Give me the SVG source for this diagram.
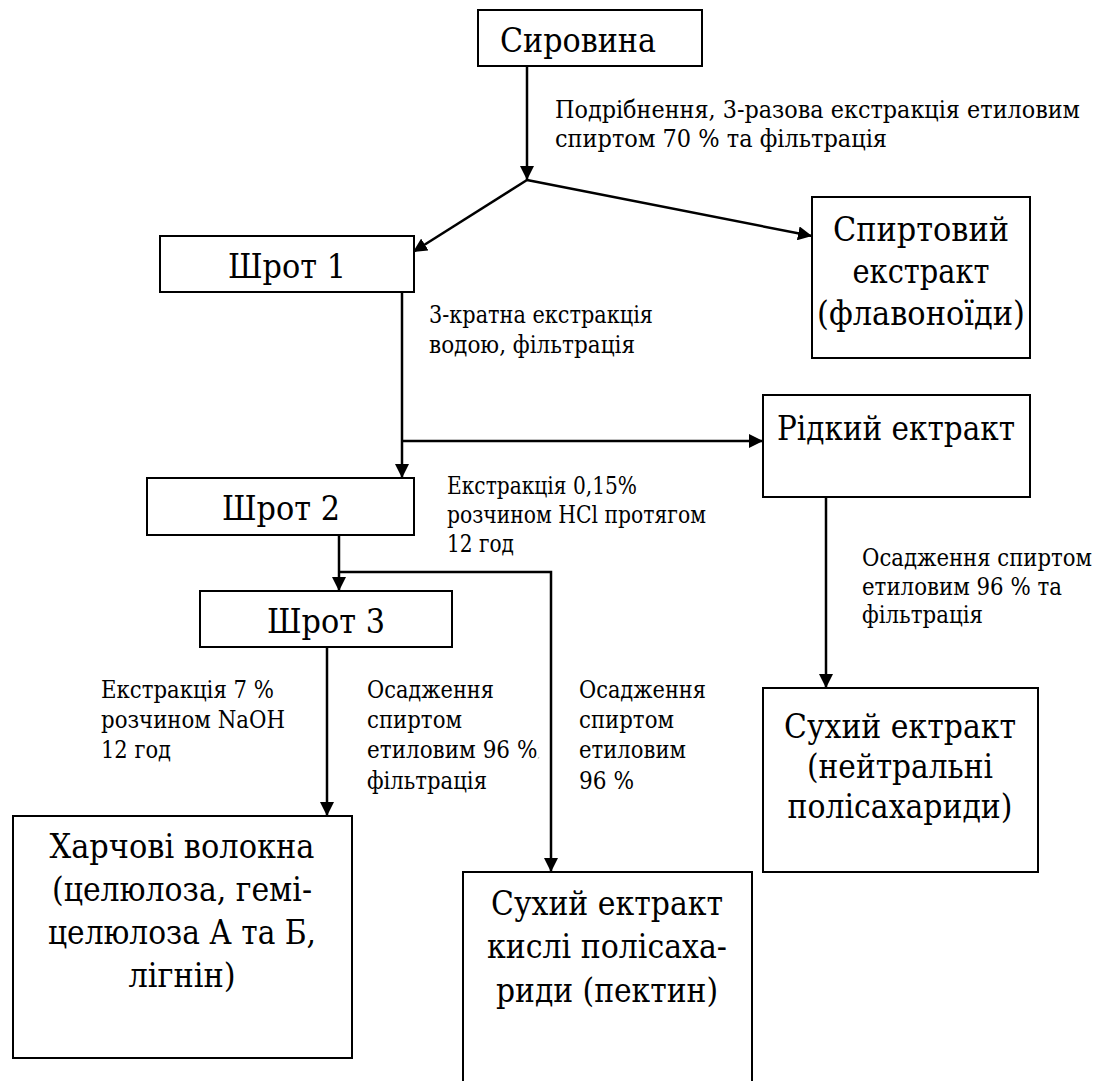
<svg xmlns="http://www.w3.org/2000/svg" width="1112" height="1081" viewBox="0 0 1112 1081">
<style>
.box{fill:#fff;stroke:#000;stroke-width:2}
.nt{font-family:"DejaVu Serif","Liberation Serif",serif;font-size:34px;text-anchor:middle;fill:#000}
.lb{font-family:"DejaVu Serif","Liberation Serif",serif;font-size:23.4px;fill:#000}
.cn{fill:none;stroke:#000;stroke-width:2.5}
</style>
<defs>
<marker id="ah" viewBox="0 0 10 10" refX="10" refY="5" markerWidth="14" markerHeight="14" markerUnits="userSpaceOnUse" orient="auto">
<path d="M0,0 L10,5 L0,10 z" fill="#000"/>
</marker>
</defs>
<rect width="1112" height="1081" fill="#fff"/>
<g id="connectors">
<path class="cn" d="M527,66 V180" marker-end="url(#ah)"/>
<path class="cn" d="M527,180 L413,252" marker-end="url(#ah)"/>
<path class="cn" d="M527,180 L812,236" marker-end="url(#ah)"/>
<path class="cn" d="M402,292 V478" marker-end="url(#ah)"/>
<path class="cn" d="M402,441 H763" marker-end="url(#ah)"/>
<path class="cn" d="M339,535 V591" marker-end="url(#ah)"/>
<path class="cn" d="M339,572 H551 V872" marker-end="url(#ah)"/>
<path class="cn" d="M327,647 V816" marker-end="url(#ah)"/>
<path class="cn" d="M826,497 V688" marker-end="url(#ah)"/>
</g>
<g id="n-syrovyna">
<rect class="box" x="478" y="10" width="224" height="56"/>
<text class="nt" x="578" y="52" textLength="156" lengthAdjust="spacingAndGlyphs">Сировина</text>
</g>
<g id="n-shrot1">
<rect class="box" x="160" y="236" width="254" height="56"/>
<text class="nt" x="287" y="278" textLength="118" lengthAdjust="spacingAndGlyphs">Шрот 1</text>
</g>
<g id="n-spyrtovyi">
<rect class="box" x="812" y="197" width="218" height="161"/>
<text class="nt" x="921" y="241" textLength="176" lengthAdjust="spacingAndGlyphs">Спиртовий</text>
<text class="nt" x="921" y="283" textLength="137" lengthAdjust="spacingAndGlyphs">екстракт</text>
<text class="nt" x="921" y="325" textLength="208" lengthAdjust="spacingAndGlyphs">(флавоноїди)</text>
</g>
<g id="n-ridkyi">
<rect class="box" x="763" y="395" width="267" height="102"/>
<text class="nt" x="896" y="440" textLength="238" lengthAdjust="spacingAndGlyphs">Рідкий ектракт</text>
</g>
<g id="n-shrot2">
<rect class="box" x="147" y="478" width="267" height="57"/>
<text class="nt" x="281" y="520" textLength="118" lengthAdjust="spacingAndGlyphs">Шрот 2</text>
</g>
<g id="n-shrot3">
<rect class="box" x="200" y="591" width="252" height="56"/>
<text class="nt" x="326" y="633" textLength="118" lengthAdjust="spacingAndGlyphs">Шрот 3</text>
</g>
<g id="n-kharchovi">
<rect class="box" x="13" y="816" width="339" height="242"/>
<text class="nt" x="182" y="858" textLength="265" lengthAdjust="spacingAndGlyphs">Харчові волокна</text>
<text class="nt" x="182" y="901" textLength="260" lengthAdjust="spacingAndGlyphs">(целюлоза, гемі-</text>
<text class="nt" x="182" y="944" textLength="268" lengthAdjust="spacingAndGlyphs">целюлоза А та Б,</text>
<text class="nt" x="182" y="987" textLength="107" lengthAdjust="spacingAndGlyphs">лігнін)</text>
</g>
<g id="n-kysli">
<path class="box" d="M463,1090 V872 H752 V1090"/>
<text class="nt" x="607" y="915" textLength="232" lengthAdjust="spacingAndGlyphs">Сухий ектракт</text>
<text class="nt" x="607" y="958" textLength="240" lengthAdjust="spacingAndGlyphs">кислі полісаха-</text>
<text class="nt" x="607" y="1002" textLength="222" lengthAdjust="spacingAndGlyphs">риди (пектин)</text>
</g>
<g id="n-neitralni">
<rect class="box" x="763" y="688" width="275" height="184"/>
<text class="nt" x="900" y="738" textLength="232" lengthAdjust="spacingAndGlyphs">Сухий ектракт</text>
<text class="nt" x="900" y="778" textLength="186" lengthAdjust="spacingAndGlyphs">(нейтральні</text>
<text class="nt" x="900" y="818" textLength="225" lengthAdjust="spacingAndGlyphs">полісахариди)</text>
</g>
<g id="labels">
<text class="lb" x="555" y="118" font-size="25" textLength="525" lengthAdjust="spacingAndGlyphs">Подрібнення, 3-разова екстракція етиловим</text>
<text class="lb" x="555" y="147" font-size="25" textLength="332" lengthAdjust="spacingAndGlyphs">спиртом 70 % та фільтрація</text>
<text class="lb" x="429" y="323" textLength="224" lengthAdjust="spacingAndGlyphs">3-кратна екстракція</text>
<text class="lb" x="429" y="353" textLength="206" lengthAdjust="spacingAndGlyphs">водою, фільтрація</text>
<text class="lb" x="447" y="494" font-size="22.4" textLength="190" lengthAdjust="spacingAndGlyphs">Екстракція 0,15%</text>
<text class="lb" x="447" y="523" font-size="22.4" textLength="259" lengthAdjust="spacingAndGlyphs">розчином HCl протягом</text>
<text class="lb" x="447" y="552" font-size="22.4" textLength="67" lengthAdjust="spacingAndGlyphs">12 год</text>
<text class="lb" x="862" y="566" textLength="230" lengthAdjust="spacingAndGlyphs">Осадження спиртом</text>
<text class="lb" x="862" y="595" textLength="200" lengthAdjust="spacingAndGlyphs">етиловим 96 % та</text>
<text class="lb" x="862" y="623" textLength="121" lengthAdjust="spacingAndGlyphs">фільтрація</text>
<text class="lb" x="101" y="698" textLength="173" lengthAdjust="spacingAndGlyphs">Екстракція 7 %</text>
<text class="lb" x="101" y="728" textLength="184" lengthAdjust="spacingAndGlyphs">розчином NaOH</text>
<text class="lb" x="101" y="758" textLength="70" lengthAdjust="spacingAndGlyphs">12 год</text>
<text class="lb" x="367" y="698" textLength="127" lengthAdjust="spacingAndGlyphs">Осадження</text>
<text class="lb" x="367" y="728" textLength="95" lengthAdjust="spacingAndGlyphs">спиртом</text>
<text class="lb" x="367" y="758" textLength="173" lengthAdjust="spacingAndGlyphs">етиловим 96 %<tspan font-size="9" fill="#999">,</tspan></text>
<text class="lb" x="367" y="789" textLength="120" lengthAdjust="spacingAndGlyphs">фільтрація</text>
<text class="lb" x="579" y="698" textLength="127" lengthAdjust="spacingAndGlyphs">Осадження</text>
<text class="lb" x="579" y="728" textLength="95" lengthAdjust="spacingAndGlyphs">спиртом</text>
<text class="lb" x="579" y="758" textLength="107" lengthAdjust="spacingAndGlyphs">етиловим</text>
<text class="lb" x="579" y="789" textLength="55" lengthAdjust="spacingAndGlyphs">96 %</text>
</g>
</svg>
